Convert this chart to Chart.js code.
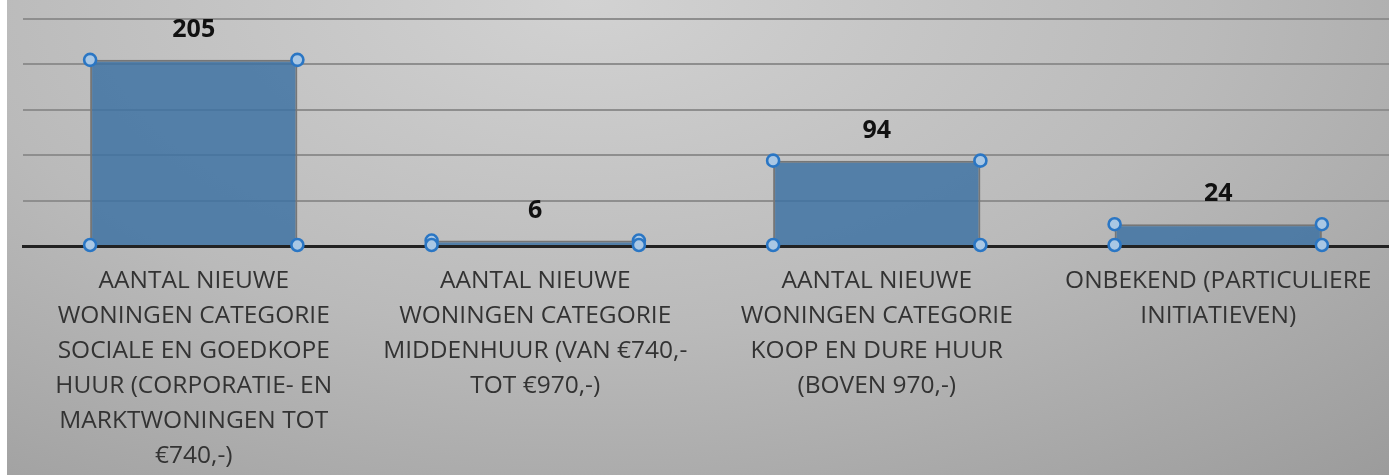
<!DOCTYPE html>
<html>
<head>
<meta charset="utf-8">
<script src="https://cdn.jsdelivr.net/npm/chart.js@4.4.1/dist/chart.umd.min.js"></script>
<style>
    html, body { margin: 0; padding: 0; background: #fff; }
    #wrap {
        position: absolute; left: 7px; top: 0;
        width: 1382px; height: 475px;
        background: radial-gradient(ellipse 90% 140% at 42% 0%, #d2d2d2 0%, #bababa 50%, #999 100%);
    }
</style>
</head>
<body>
<div id="wrap"><canvas id="chart"></canvas></div>
<script>
const categories = [
    ['AANTAL NIEUWE', 'WONINGEN CATEGORIE', 'SOCIALE EN GOEDKOPE', 'HUUR (CORPORATIE- EN', 'MARKTWONINGEN TOT', '€740,-)'],
    ['AANTAL NIEUWE', 'WONINGEN CATEGORIE', 'MIDDENHUUR (VAN €740,-', 'TOT €970,-)'],
    ['AANTAL NIEUWE', 'WONINGEN CATEGORIE', 'KOOP EN DURE HUUR', '(BOVEN 970,-)'],
    ['ONBEKEND (PARTICULIERE', 'INITIATIEVEN)']
];
const values = [205, 6, 94, 24];
const yMax = 250;
const yStep = 50;

// value labels above the bars + the selection handles on the corners
const barExtras = {
    id: 'barExtras',
    afterDatasetsDraw(chart) {
        const ctx = chart.ctx;
        const meta = chart.getDatasetMeta(0);
        ctx.save();
        meta.data.forEach((bar, i) => {
            let left = bar.x - bar.width / 2;
            let right = bar.x + bar.width / 2;
            let corners = [[left, bar.y], [right, bar.y], [left, bar.base], [right, bar.base]];
            corners.forEach(c => {
                ctx.beginPath();
                ctx.arc(c[0], c[1], 6, 0, Math.PI * 2);
                ctx.fillStyle = '#a9c7e4';
                ctx.fill();
                ctx.lineWidth = 2.6;
                ctx.strokeStyle = '#2a76c4';
                ctx.stroke();
            });
            ctx.fillStyle = '#111';
            ctx.font = 'bold 25px "Open Sans"';
            ctx.textAlign = 'center';
            ctx.textBaseline = 'middle';
            ctx.fillText(values[i], bar.x, bar.y - 30);
        });
        ctx.restore();
    }
};

new Chart(document.getElementById('chart'), {
    type: 'bar',
    data: {
        labels: categories,
        datasets: [{
            data: values,
            backgroundColor: 'rgba(58,112,162,0.82)',
            borderColor: '#767676',
            borderWidth: 2,
            categoryPercentage: 1,
            barPercentage: 0.607
        }]
    },
    options: {
        responsive: true,
        maintainAspectRatio: false,
        animation: false,
        layout: {padding: {left: 16, right: 0, top: 19, bottom: 2}},
        plugins: {
            legend: {display: false},
            tooltip: {enabled: false}
        },
        scales: {
            x: {
                grid: {display: false, drawTicks: false},
                border: {display: true, color: '#222', width: 3},
                ticks: {
                    color: '#333',
                    padding: 17,
                    maxRotation: 0,
                    autoSkip: false,
                    font: {family: 'Open Sans', size: 24.5, lineHeight: 1.43}
                }
            },
            y: {
                min: 0,
                max: yMax,
                ticks: {display: false, stepSize: yStep},
                grid: {color: '#8e8e8e', lineWidth: 2, drawTicks: false},
                border: {display: false}
            }
        }
    },
    plugins: [barExtras]
});
</script>
</body>
</html>
